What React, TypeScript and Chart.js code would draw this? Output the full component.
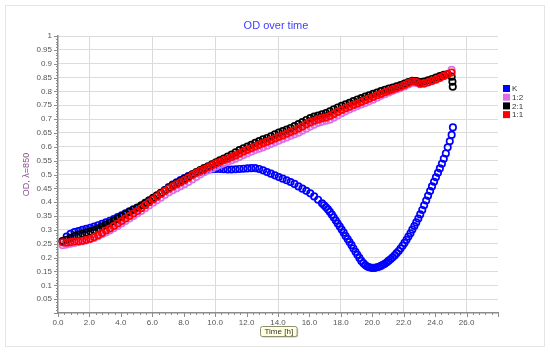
import React, { useEffect, useRef } from 'react';
import { Chart, registerables } from 'chart.js';

Chart.register(...registerables);

const chartTitle = 'OD over time';
const xTitle = 'Time [h]';
const yTitle = 'OD, \u03bb=850';
const seriesLabels = ['K', '1:2', '2:1', '1:1'];
const seriesColors = ['#0000ff', '#dd6ee8', '#000000', '#ff0000'];

// sampling times (h) shared by 1:2, 2:1, 1:1
const times = [
  0.3, 0.55, 0.8, 1.05, 1.3, 1.55, 1.8, 2.05, 2.3, 2.55,
  2.8, 3.05, 3.3, 3.55, 3.8, 4.05, 4.3, 4.55, 4.8, 5.05,
  5.3, 5.55, 5.8, 6.05, 6.3, 6.55, 6.8, 7.05, 7.3, 7.55,
  7.8, 8.05, 8.3, 8.55, 8.8, 9.05, 9.3, 9.55, 9.8, 10.05,
  10.3, 10.55, 10.8, 11.05, 11.3, 11.55, 11.8, 12.05, 12.3, 12.55,
  12.8, 13.05, 13.3, 13.55, 13.8, 14.05, 14.3, 14.55, 14.8, 15.05,
  15.3, 15.55, 15.8, 16.05, 16.3, 16.55, 16.8, 17.05, 17.3, 17.55,
  17.8, 18.05, 18.3, 18.55, 18.8, 19.05, 19.3, 19.55, 19.8, 20.05,
  20.3, 20.55, 20.8, 21.05, 21.3, 21.55, 21.8, 22.05, 22.3, 22.55,
  22.8, 23.05, 23.3, 23.55, 23.8, 24.05, 24.3, 24.55, 24.8, 25.05,
];

// 1:1
const redVals = [
  0.255, 0.254, 0.256, 0.258, 0.259, 0.261, 0.264, 0.268, 0.274, 0.281,
  0.289, 0.298, 0.305, 0.314, 0.323, 0.332, 0.341, 0.35, 0.359, 0.368,
  0.378, 0.389, 0.4, 0.41, 0.42, 0.43, 0.44, 0.449, 0.457, 0.465,
  0.472, 0.479, 0.488, 0.498, 0.506, 0.513, 0.519, 0.526, 0.533, 0.54,
  0.546, 0.552, 0.557, 0.563, 0.569, 0.576, 0.583, 0.589, 0.595, 0.601,
  0.607, 0.613, 0.618, 0.624, 0.63, 0.636, 0.641, 0.647, 0.653, 0.659,
  0.666, 0.673, 0.681, 0.688, 0.694, 0.699, 0.703, 0.706, 0.711, 0.718,
  0.726, 0.733, 0.739, 0.745, 0.751, 0.756, 0.762, 0.768, 0.774, 0.78,
  0.786, 0.791, 0.797, 0.802, 0.807, 0.812, 0.817, 0.823, 0.83, 0.836,
  0.834, 0.828, 0.829, 0.833, 0.838, 0.843, 0.849, 0.856, 0.862, 0.868,
];

// 2:1
const blackVals = [
  0.26, 0.264, 0.271, 0.278, 0.282, 0.286, 0.29, 0.294, 0.299, 0.305,
  0.312, 0.319, 0.326, 0.333, 0.341, 0.349, 0.357, 0.365, 0.373, 0.381,
  0.389, 0.398, 0.407, 0.416, 0.425, 0.434, 0.443, 0.452, 0.461, 0.469,
  0.477, 0.485, 0.493, 0.501, 0.509, 0.516, 0.523, 0.53, 0.537, 0.544,
  0.551, 0.558, 0.565, 0.572, 0.58, 0.588, 0.595, 0.601, 0.607, 0.614,
  0.621, 0.627, 0.632, 0.638, 0.645, 0.651, 0.657, 0.662, 0.668, 0.675,
  0.682, 0.689, 0.697, 0.704, 0.709, 0.713, 0.717, 0.722, 0.728, 0.735,
  0.742, 0.748, 0.753, 0.759, 0.765, 0.771, 0.776, 0.781, 0.786, 0.791,
  0.796, 0.801, 0.806, 0.81, 0.814, 0.818, 0.823, 0.828, 0.834, 0.838,
  0.837, 0.834, 0.836, 0.84, 0.845, 0.85, 0.855, 0.86, 0.862, 0.853,
];
const blackTailTimes = [25.1, 25.12];
const blackTailVals = [0.835, 0.817];

// 1:2
const pinkVals = [
  0.245, 0.247, 0.25, 0.253, 0.256, 0.259, 0.262, 0.266, 0.271, 0.277,
  0.284, 0.291, 0.298, 0.306, 0.314, 0.323, 0.332, 0.341, 0.35, 0.359,
  0.368, 0.378, 0.388, 0.398, 0.407, 0.416, 0.426, 0.435, 0.443, 0.45,
  0.458, 0.465, 0.473, 0.482, 0.491, 0.5, 0.508, 0.515, 0.522, 0.529,
  0.535, 0.541, 0.546, 0.551, 0.557, 0.563, 0.57, 0.576, 0.582, 0.588,
  0.593, 0.598, 0.604, 0.61, 0.616, 0.622, 0.628, 0.634, 0.64, 0.645,
  0.651, 0.658, 0.665, 0.673, 0.68, 0.686, 0.69, 0.694, 0.698, 0.705,
  0.713, 0.721, 0.728, 0.735, 0.741, 0.747, 0.753, 0.758, 0.764, 0.77,
  0.777, 0.784, 0.79, 0.796, 0.802, 0.807, 0.812, 0.818, 0.825, 0.831,
  0.83, 0.826, 0.828, 0.832, 0.837, 0.842, 0.848, 0.855, 0.863, 0.878,
];

// K
const blueTimes = [
  0.3, 0.55, 0.8, 1.05, 1.3, 1.55, 1.8, 2.05, 2.3, 2.55,
  2.8, 3.05, 3.3, 3.55, 3.8, 4.05, 4.3, 4.55, 4.8, 5.05,
  5.3, 5.55, 5.8, 6.05, 6.3, 6.55, 6.8, 7.05, 7.3, 7.55,
  7.8, 8.05, 8.3, 8.55, 8.8, 9.05, 9.3, 9.55, 9.8, 10.05,
  10.3, 10.55, 10.8, 11.05, 11.3, 11.55, 11.8, 12.05, 12.3, 12.55,
  12.8, 13.05, 13.3, 13.55, 13.8, 14.05, 14.3, 14.55, 14.8, 15.05,
  15.3, 15.55, 15.8, 16.05, 16.3, 16.55,
  16.8, 16.93, 17.05, 17.18, 17.3, 17.43, 17.55, 17.68, 17.8, 17.93,
  18.05, 18.18, 18.3, 18.43, 18.55, 18.68, 18.8, 18.93, 19.05, 19.18,
  19.3, 19.43, 19.55, 19.68, 19.8, 19.93, 20.05, 20.18, 20.3, 20.43,
  20.55, 20.68, 20.8, 20.93, 21.05, 21.18, 21.3, 21.43, 21.55, 21.68,
  21.8, 21.93, 22.05, 22.18, 22.3, 22.43, 22.55, 22.68, 22.8, 22.93,
  23.05, 23.18, 23.3, 23.43, 23.55, 23.68, 23.8, 23.93, 24.05, 24.18,
  24.3, 24.43, 24.55, 24.68, 24.8, 24.93, 25.05, 25.13,
];
const blueVals = [
  0.26, 0.276, 0.286, 0.292, 0.296, 0.3, 0.304, 0.308, 0.312, 0.317,
  0.322, 0.327, 0.333, 0.339, 0.346, 0.353, 0.36, 0.367, 0.374, 0.379,
  0.385, 0.394, 0.403, 0.413, 0.423, 0.433, 0.444, 0.455, 0.464, 0.472,
  0.48, 0.487, 0.494, 0.5, 0.505, 0.51, 0.514, 0.517, 0.519, 0.52,
  0.52, 0.519, 0.518, 0.518, 0.519, 0.52, 0.521, 0.522, 0.523, 0.523,
  0.52, 0.515, 0.509, 0.503, 0.497, 0.491, 0.485, 0.479, 0.473, 0.466,
  0.457, 0.449, 0.441, 0.432, 0.421, 0.409,
  0.396, 0.389, 0.382, 0.374, 0.365, 0.355, 0.345, 0.334, 0.323, 0.312,
  0.301, 0.29, 0.278, 0.267, 0.256, 0.245, 0.233, 0.221, 0.21, 0.199,
  0.188, 0.18, 0.173, 0.168, 0.165, 0.163, 0.163, 0.163, 0.165, 0.167,
  0.17, 0.174, 0.178, 0.183, 0.189, 0.195, 0.201, 0.208, 0.216, 0.224,
  0.233, 0.243, 0.253, 0.264, 0.276, 0.288, 0.301, 0.314, 0.327, 0.341,
  0.356, 0.372, 0.389, 0.406, 0.423, 0.44, 0.457, 0.474, 0.49, 0.506,
  0.522, 0.539, 0.557, 0.576, 0.598, 0.62, 0.643, 0.67,
];

const FONT = '"Liberation Sans", Arial, sans-serif';

function toPoints(ts: number[], vs: number[]) {
  const n = Math.min(ts.length, vs.length);
  const out: { x: number; y: number }[] = [];
  for (let i = 0; i < n; i++) out.push({ x: ts[i], y: vs[i] });
  return out;
}

const decorPlugin = {
  id: 'decor',
  beforeDraw(chart: any) {
    const { ctx, width, height } = chart;
    ctx.save();
    ctx.fillStyle = '#ffffff';
    ctx.fillRect(0, 0, width, height);
    ctx.strokeStyle = '#e4e4e4';
    ctx.lineWidth = 1;
    ctx.strokeRect(5.5, 5.5, 539, 341);
    ctx.restore();
  },
  afterDraw(chart: any) {
    const { ctx, chartArea } = chart;
    const xs = chart.scales.x;
    const ys = chart.scales.y;
    ctx.save();
    // minor / major tick marks
    ctx.strokeStyle = '#8c8c8c';
    ctx.lineWidth = 1;
    ctx.beginPath();
    for (let i = 0; i <= 70; i++) {
      const px = Math.round(xs.getPixelForValue(i * 0.4)) + 0.5;
      const len = i % 5 === 0 ? 4 : 2;
      ctx.moveTo(px, chartArea.bottom);
      ctx.lineTo(px, chartArea.bottom + len);
    }
    for (let i = 0; i <= 100; i++) {
      const py = Math.round(ys.getPixelForValue(i / 100)) + 0.5;
      const len = i % 5 === 0 ? 4 : 2;
      ctx.moveTo(chartArea.left - len, py);
      ctx.lineTo(chartArea.left, py);
    }
    ctx.stroke();

    // title
    ctx.fillStyle = '#4040ff';
    ctx.font = `11px ${FONT}`;
    ctx.textAlign = 'center';
    ctx.textBaseline = 'middle';
    ctx.fillText(chartTitle, 276, 26);

    // y axis title
    ctx.save();
    ctx.translate(27, (chartArea.top + chartArea.bottom) / 2);
    ctx.rotate(-Math.PI / 2);
    ctx.fillStyle = '#8b4f8b';
    ctx.font = `9px ${FONT}`;
    ctx.fillText(yTitle, 0, 0);
    ctx.restore();

    // x axis title box
    const cx = (chartArea.left + chartArea.right) / 2;
    ctx.font = `8px ${FONT}`;
    const tw = ctx.measureText(xTitle).width;
    const bw = tw + 8;
    const bh = 10;
    const bx = Math.round(cx - bw / 2) + 0.5;
    const by = 326.5;
    ctx.save();
    ctx.shadowColor = 'rgba(0,0,0,0.25)';
    ctx.shadowOffsetX = 1;
    ctx.shadowOffsetY = 1;
    ctx.shadowBlur = 1;
    ctx.fillStyle = '#ffffe1';
    ctx.beginPath();
    (ctx as any).roundRect(bx, by, bw, bh, 2);
    ctx.fill();
    ctx.restore();
    ctx.strokeStyle = '#8f8f70';
    ctx.beginPath();
    (ctx as any).roundRect(bx, by, bw, bh, 2);
    ctx.stroke();
    ctx.fillStyle = '#333333';
    ctx.fillText(xTitle, bx + bw / 2, by + bh / 2 + 0.5);

    // legend
    const lx = 503;
    const ly = 85;
    ctx.textAlign = 'left';
    ctx.font = `8px ${FONT}`;
    chart.data.datasets.forEach((ds: any, i: number) => {
      const yy = ly + i * 8.7;
      ctx.fillStyle = ds.borderColor;
      ctx.fillRect(lx, yy, 7, 7);
      ctx.fillStyle = '#333333';
      ctx.fillText(ds.label, lx + 9, yy + 4);
    });
    ctx.restore();
  },
};

export default function App() {
  const ref = useRef<HTMLCanvasElement | null>(null);
  useEffect(() => {
    document.body.style.margin = '0';
    const canvas = ref.current;
    if (!canvas) return;
    const mk = (label: string, color: string, data: any[], order: number) => ({
      label,
      data,
      order,
      borderColor: color,
      backgroundColor: 'rgba(0,0,0,0)',
      pointBorderColor: color,
      pointBackgroundColor: 'rgba(0,0,0,0)',
      pointRadius: 3.2,
      pointBorderWidth: 1.7,
      pointStyle: 'circle',
      showLine: false,
    });
    const chart = new Chart(canvas, {
      type: 'scatter',
      data: {
        datasets: [
          mk(seriesLabels[0], seriesColors[0], toPoints(blueTimes, blueVals), 3),
          mk(seriesLabels[1], seriesColors[1], toPoints(times, pinkVals), 2),
          mk(seriesLabels[2], seriesColors[2], toPoints(times, blackVals).concat(toPoints(blackTailTimes, blackTailVals)), 1),
          mk(seriesLabels[3], seriesColors[3], toPoints(times, redVals), 0),
        ],
      },
      options: {
        responsive: false,
        animation: false,
        events: [],
        layout: { padding: { top: 36, right: 52, bottom: 0, left: 0 } },
        plugins: {
          legend: { display: false },
          title: { display: false },
          tooltip: { enabled: false },
        },
        scales: {
          x: {
            type: 'linear',
            min: 0,
            max: 28,
            afterFit: (s: any) => { s.height = 40; },
            border: { display: true, color: '#8c8c8c', width: 1.5 },
            grid: {
              drawTicks: false,
              lineWidth: 1,
              color: (c: any) => (c.tick && Math.round(c.tick.value) % 4 === 2 ? '#dadada' : 'rgba(0,0,0,0)'),
            },
            ticks: {
              stepSize: 2,
              padding: 5,
              autoSkip: false,
              maxRotation: 0,
              color: '#555555',
              font: { family: FONT, size: 8 },
              callback: (v: any) => (Number(v) >= 28 ? '' : Number(v).toFixed(1)),
            },
          },
          y: {
            type: 'linear',
            min: 0,
            max: 1,
            afterFit: (s: any) => { s.width = 58; },
            border: { display: true, color: '#8c8c8c', width: 1.5 },
            grid: {
              drawTicks: false,
              lineWidth: 1,
              color: (c: any) => (c.tick && c.tick.value > 0 ? '#dcdcdc' : 'rgba(0,0,0,0)'),
            },
            ticks: {
              stepSize: 0.05,
              padding: 6,
              autoSkip: false,
              color: '#555555',
              font: { family: FONT, size: 8 },
              callback: (v: any) => (Number(v) === 0 ? '' : String(+Number(v).toFixed(2))),
            },
          },
        },
      },
      plugins: [decorPlugin],
    } as any);
    return () => chart.destroy();
  }, []);
  return (
    <div style={{ width: 550, height: 353 }}>
      <canvas ref={ref} width={550} height={353} style={{ display: 'block' }} />
    </div>
  );
}
